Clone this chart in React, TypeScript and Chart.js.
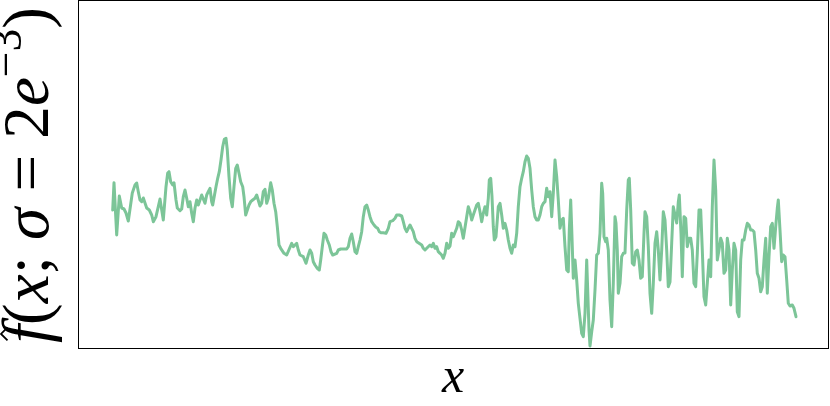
import React, { useEffect, useRef } from "react";
import { Chart, registerables } from "chart.js";

Chart.register(...registerables);

// sample positions along x (arbitrary units) and estimated density values
const SAMPLE_X = [
  0.7, 2, 4.7, 7.3, 9.7, 12, 14, 16.3, 20.3, 23, 24.7, 26.3, 28, 29.7, 31.3, 34.7, 37.3, 39.7, 41.3, 44,
  46.3, 48, 51.3, 54, 55.7, 57, 58.7, 60.7, 62, 64, 65.3, 68, 69.7, 71.3, 73, 74.7, 76.3, 78, 79.7, 81.3,
  83, 84.7, 86.3, 88, 89.7, 93, 94.7, 96.3, 98, 99.7, 100.7, 104, 105.7, 107.3, 109, 110.7, 112.3, 114, 115.3, 117,
  118.7, 120.3, 122, 123.7, 125.3, 127, 128.7, 130.7, 132, 133.7, 137, 138.7, 140.7, 143, 144.7, 148, 149.7, 151.3, 153, 154.7,
  156.3, 158.7, 160.3, 162, 163.7, 165.3, 167, 168.7, 172, 174.7, 179.7, 181.3, 184.7, 186.3, 188, 191.3, 194, 196.3, 198, 199.7,
  201.3, 203, 205.3, 207.3, 208.7, 210.3, 212, 213.7, 215.3, 217.3, 219, 220.7, 224.7, 226.3, 228.7, 234.7, 236.3, 238, 239.7, 241.3,
  243, 244.7, 246.3, 248, 249.7, 251.3, 253, 254.7, 256.3, 258, 259.7, 262, 264, 265.7, 267.3, 269, 271.3, 274, 276.3, 278,
  280.7, 283, 284.7, 287.3, 289.7, 291.3, 293, 294.7, 296.3, 298, 301.3, 303, 304.7, 306.3, 309.7, 311.3, 313, 314.7, 318, 319.7,
  321.3, 323, 324.7, 326.3, 328, 329.7, 331.3, 333, 334.7, 336.3, 338, 339.7, 341.3, 344.7, 346.3, 348, 349.7, 351.3, 354.7, 356.3,
  358, 359.7, 361.3, 363, 364.7, 366.3, 368, 369.7, 371.3, 373, 374.7, 376.3, 377.3, 378.7, 380, 381.3, 382.3, 384, 385.3, 386.3,
  388, 389.7, 391.3, 393, 394.7, 396.3, 398, 399.7, 401.3, 403, 404.7, 406.3, 408, 409.7, 411.3, 413, 414.7, 416.3, 418, 419.7,
  421.3, 423, 424.7, 426.3, 428, 429.7, 431.3, 433, 434.7, 436.3, 438, 439.7, 441.3, 443, 444.7, 446.3, 448, 449.7, 451.3, 453,
  454.7, 456.3, 457.3, 458.7, 459.7, 461.3, 463, 464.7, 466.3, 468, 469.7, 471.3, 473, 474.7, 475.7, 477, 478, 479.7, 481.3, 483,
  484.7, 486.3, 488, 489.7, 490.7, 492, 493.7, 494.7, 496.3, 498, 499.7, 501.3, 503, 504, 505.3, 506.3, 508, 509.7, 511.3, 513,
  514.7, 516.3, 517.3, 518.7, 520.3, 522, 523.7, 525.3, 527, 528.7, 530.3, 532, 533, 534.7, 536.3, 538, 539.7, 541.3, 543, 544.7,
  546.3, 548, 549.7, 551.3, 553, 554.7, 556.3, 558, 559.7, 561.3, 564.7, 566.3, 567.3, 569, 570.3, 572, 573.7, 575.3, 577, 578.7,
  580.3, 582, 583.7, 585.3, 587, 588.7, 590.3, 592, 593.7, 595.3, 597, 598.7, 600.3, 602, 603.7, 605.3, 607, 608.7, 610.3, 612,
  613.7, 615.3, 617, 618.7, 620.3, 622, 623.7, 625.3, 627, 628.7, 630.3, 632, 633.7, 635.3, 637, 638.7, 640.3, 642, 643.7, 645.3,
  647, 648.7, 650.3, 652, 653.7, 655.3, 657, 658.7, 660.3, 662, 663.7, 665.3, 666.3, 668, 669.7, 671.3, 673, 674.7, 676.3, 678,
  680.3, 682, 684,
];

const DENSITY = [
  138, 165.3, 113, 152, 140, 139, 135, 127, 155, 163, 165, 156.3, 148, 146.3, 150, 140, 138, 133, 126.3, 131.3,
  141.3, 149, 128, 161.3, 175, 176.3, 166.3, 163, 165.3, 148, 140, 137.3, 139, 151.3, 158, 149.7, 141.3, 146.3, 134.7, 126.3,
  140, 148, 143, 148, 153, 144.7, 153, 156.3, 159.7, 146.3, 143, 161.3, 169.7, 176.3, 188, 201.3, 208.7, 209.7, 198, 171.3,
  149.7, 141.3, 161.3, 179.7, 183, 174.7, 166.3, 161.3, 151.3, 133, 143, 146.3, 148, 149.7, 153, 142, 144.7, 156.3, 158.7, 144.7,
  149.7, 165.3, 158, 144.7, 136.3, 121.3, 103, 99.7, 94.7, 93, 104.7, 101.3, 104.7, 98, 93, 91.3, 84.7, 93, 98, 94.7,
  86.3, 83, 79.7, 78, 88, 101.3, 114.7, 113, 108, 103, 96.3, 93, 94.7, 98, 99, 99, 101.3, 109.7, 114, 106.3,
  96.3, 94.7, 101.3, 108, 116.3, 131.3, 141.3, 143, 138, 131.3, 126.3, 123, 120.7, 119.7, 116.3, 115.3, 115.3, 114.7, 119.7, 126.3,
  127.3, 129.7, 133, 133, 132, 126.3, 119.7, 116.3, 119.7, 123, 116.3, 109.7, 106.3, 105.3, 103, 99.7, 98, 99.7, 103, 101.3,
  104.7, 99.7, 101.3, 96.3, 94.7, 93, 89.7, 94.7, 104.7, 99.7, 102, 114.7, 111.3, 119.7, 126.3, 124.7, 118, 109.7, 131.3, 141.3,
  136.3, 128, 133, 138, 143, 144.7, 136.3, 126.3, 134.7, 141.3, 133, 149.7, 168, 169.7, 151.3, 121.3, 108, 111.3, 128, 141.3,
  144.7, 133, 119.7, 124.7, 118, 108, 99.7, 94.7, 103, 101.3, 114.7, 141.3, 161.3, 169.7, 176.3, 186.3, 192, 189.7, 179.7, 158,
  141.3, 131.3, 128, 128, 133, 141.3, 144.7, 146.3, 159.7, 151.3, 156.3, 131.3, 154.7, 188, 171.3, 148, 119.7, 128, 129.7, 101.3,
  78, 76.3, 118, 148, 119.7, 69.7, 88, 68, 44.7, 29.7, 14.7, 11.3, 34.7, 88, 58, 18, 2, 16.3, 28, 58,
  93, 94.7, 114.7, 164.7, 154.7, 111.3, 106.3, 109.7, 98, 48, 21.3, 64.7, 131.3, 124.7, 98, 54.7, 64.7, 91.3, 94.7, 95,
  138, 168, 169.7, 138, 84.7, 83, 96.3, 98, 88, 69.7, 71.3, 114.7, 136.3, 131.3, 101.3, 54.7, 34.7, 64.7, 104.7, 116.3,
  98, 68, 98, 136.3, 128, 98, 61.3, 66, 105, 141.3, 125, 146, 153, 114.7, 71.3, 131.3, 129.7, 101.3, 109.7, 109.7,
  98, 64.7, 61.3, 94.7, 138, 138, 98, 51.3, 43, 64.7, 88, 71.3, 141.3, 188, 158, 88, 98, 109.7, 104.7, 74.7,
  78, 109.7, 98, 43, 78, 104.7, 98, 36.3, 31.3, 88, 108, 108, 118, 124.7, 123, 118, 118, 116.3, 98, 74.7,
  69.7, 56.3, 61.3, 88, 109.7, 54.7, 91.3, 121.3, 124.7, 99.7, 121.3, 139.7, 148, 118, 86.3, 93, 91.3, 68, 44.7, 42,
  43, 39.7, 31.3,
];

const X_MIN = -34;
const X_MAX = 716;
const Y_MIN = 0;
const Y_MAX = 348;

const X_LABEL = "x";
const LINE_COLOR = "rgb(124, 197, 152)";
const SERIF = "\"Liberation Serif\", \"DejaVu Serif\", serif";

type Run = { t: string; italic?: boolean; scale?: number; raise?: number };

// f̂(x; σ = 2e^{-3})
const Y_LABEL_RUNS: Run[] = [
  { t: "f", italic: true },
  { t: "(" },
  { t: "x", italic: true },
  { t: "; " },
  { t: "σ", italic: true },
  { t: " = " },
  { t: "2" },
  { t: "e", italic: true },
  { t: "−3", scale: 0.7, raise: 0.42 },
  { t: ")" },
];

const labelPlugin = {
  id: "frameAndLabels",
  afterDraw(chart: any) {
    const { ctx, chartArea } = chart;
    const { left, right, top, bottom } = chartArea;
    ctx.save();
    // frame
    ctx.strokeStyle = "#000";
    ctx.lineWidth = 1;
    ctx.strokeRect(left + 0.5, top + 0.5, right - left, bottom - top);

    // x label
    ctx.fillStyle = "#000";
    ctx.font = `italic 50px ${SERIF}`;
    ctx.textAlign = "center";
    ctx.textBaseline = "alphabetic";
    ctx.fillText(X_LABEL, (left + right) / 2, 392);

    // y label (rotated)
    const baseSize = 52;
    const fontFor = (r: Run, size: number) =>
      `${r.italic ? "italic " : ""}${(size * (r.scale || 1)).toFixed(1)}px ${SERIF}`;
    const measure = (size: number) => {
      let w = 0;
      for (const r of Y_LABEL_RUNS) {
        ctx.font = fontFor(r, size);
        w += ctx.measureText(r.t).width;
      }
      return w;
    };
    const target = 336;
    const size = baseSize * (target / measure(baseSize));
    const total = measure(size);
    ctx.translate(48, (top + bottom) / 2 + 1);
    ctx.rotate(-Math.PI / 2);
    ctx.textAlign = "left";
    let x = -total / 2;
    let fStart = x;
    let fWidth = 0;
    Y_LABEL_RUNS.forEach((r, i) => {
      ctx.font = fontFor(r, size);
      const w = ctx.measureText(r.t).width;
      ctx.fillText(r.t, x, -(r.raise || 0) * size);
      if (i === 0) {
        fStart = x;
        fWidth = w;
      }
      x += w;
    });
    // hat over f
    const cx = fStart + fWidth * 0.5;
    ctx.beginPath();
    ctx.moveTo(cx - 6.5, -40.5);
    ctx.lineTo(cx, -47);
    ctx.lineTo(cx + 6.5, -40.5);
    ctx.lineWidth = 1.8;
    ctx.strokeStyle = "#000";
    ctx.stroke();
    ctx.restore();
  },
};

export default function App() {
  const ref = useRef<HTMLCanvasElement>(null);
  useEffect(() => {
    if (!ref.current) return;
    const points = SAMPLE_X.map((x, i) => ({ x, y: DENSITY[i] }));
    const chart = new Chart(ref.current, {
      type: "line",
      data: {
        datasets: [
          {
            data: points,
            borderColor: LINE_COLOR,
            borderWidth: 3,
            pointRadius: 0,
            tension: 0,
            fill: false,
            borderJoinStyle: "round",
            borderCapStyle: "round",
          },
        ],
      },
      options: {
        responsive: false,
        animation: false,
        devicePixelRatio: 1,
        layout: { padding: { left: 78, right: 2, top: 0, bottom: 58 } },
        scales: {
          x: { type: "linear", min: X_MIN, max: X_MAX, display: false },
          y: { type: "linear", min: Y_MIN, max: Y_MAX, display: false },
        },
        plugins: {
          legend: { display: false },
          tooltip: { enabled: false },
          title: { display: false },
        },
      },
      plugins: [labelPlugin],
    } as any);
    return () => chart.destroy();
  }, []);
  return (
    <div
      style={{
        position: "fixed",
        left: 0,
        top: 0,
        width: 830,
        height: 406,
        background: "#fff",
      }}
    >
      <canvas ref={ref} width={830} height={406} style={{ display: "block" }} />
    </div>
  );
}
